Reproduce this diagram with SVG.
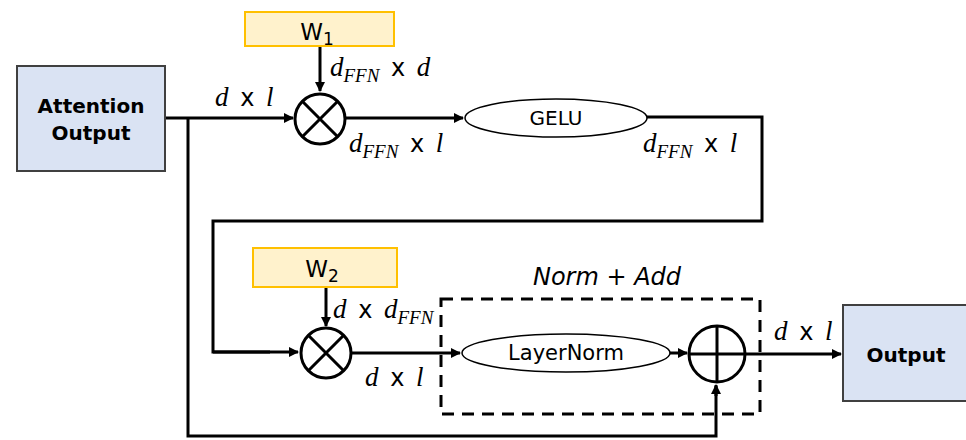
<svg xmlns="http://www.w3.org/2000/svg" width="966" height="440" viewBox="0 0 966 440">
<style>
.ln{fill:none;stroke:#000;stroke-width:3}
.arr{marker-end:url(#ah)}
.blue{fill:#dae3f3;stroke:#404040;stroke-width:2}
.yel{fill:#fff2cc;stroke:#ffc000;stroke-width:2}
.ell{fill:#fff;stroke:#000;stroke-width:1.5}
.op{fill:#fff;stroke:#000;stroke-width:3}
.bold{font-family:"DejaVu Sans",Verdana,sans-serif;font-weight:bold;font-size:20px;text-anchor:middle}
.sans{font-family:"DejaVu Sans",Verdana,sans-serif;font-size:20px;text-anchor:middle}
.m{font-family:"Liberation Serif","DejaVu Serif",serif;font-size:27px}
.it{font-style:italic}
.x{font-family:"DejaVu Sans",sans-serif;font-size:24px}
.sub{font-style:italic;font-size:19px}
</style>
<defs>
<marker id="ah" markerWidth="10" markerHeight="10" refX="9" refY="5" orient="auto" markerUnits="userSpaceOnUse">
<path d="M0,0 L10,5 L0,10 z" fill="#000"/>
</marker>
</defs>
<g id="connectors">
<path class="ln arr" d="M165,118 H293"/>
<path class="ln" d="M188,118 V436 H716 V386"/>
<path class="ln arr" d="M716,396 V385"/>
<path class="ln arr" d="M320,46 V91"/>
<path class="ln arr" d="M346,118 H463"/>
<path class="ln" d="M647,117 H762 V221 H213 V352 H270"/>
<path class="ln arr" d="M213,352 H298"/>
<path class="ln arr" d="M326,287 V326"/>
<path class="ln arr" d="M352,353 H460"/>
<path class="ln arr" d="M670,353 H687"/>
<path class="ln arr" d="M745,354 H841"/>
</g>
<g id="attention-output">
<rect class="blue" x="17" y="66" width="148" height="105"/>
<text class="bold" x="91" y="113">Attention</text>
<text class="bold" x="91" y="140">Output</text>
</g>
<g id="w1">
<rect class="yel" x="245" y="12" width="149" height="34"/>
<text class="sans" x="317" y="40" style="font-size:23px">W<tspan dy="5" style="font-size:17px">1</tspan></text>
</g>
<g id="mul1">
<circle class="op" cx="320" cy="119" r="25"/>
<path class="ln" d="M302.3,101.3 L337.7,136.7 M337.7,101.3 L302.3,136.7"/>
</g>
<g id="gelu">
<ellipse class="ell" cx="556" cy="118" rx="91" ry="19"/>
<text class="sans" x="556" y="125">GELU</text>
</g>
<g id="w2">
<rect class="yel" x="253" y="248" width="144" height="39"/>
<text class="sans" x="322" y="277" style="font-size:23px">W<tspan dy="5" style="font-size:17px">2</tspan></text>
</g>
<g id="mul2">
<circle class="op" cx="326" cy="353" r="25"/>
<path class="ln" d="M308.3,335.3 L343.7,370.7 M343.7,335.3 L308.3,370.7"/>
</g>
<g id="norm-add">
<rect x="441" y="299" width="319" height="115" fill="none" stroke="#000" stroke-width="3" stroke-dasharray="12,8"/>
<text x="607" y="285" style="font-family:'DejaVu Sans',Verdana,sans-serif;font-style:italic;font-size:24px;text-anchor:middle">Norm + Add</text>
</g>
<g id="layernorm">
<ellipse class="ell" cx="566" cy="353" rx="104" ry="19"/>
<text class="sans" x="566" y="360" style="font-size:21px">LayerNorm</text>
</g>
<g id="add">
<circle class="op" cx="717" cy="354" r="28"/>
<path class="ln" d="M689,354 H745 M717,326 V382"/>
</g>
<g id="output">
<rect class="blue" x="843" y="305" width="124" height="96"/>
<text class="bold" x="906" y="362">Output</text>
</g>
<g id="labels">
<text class="m" x="215" y="106"><tspan class="it">d</tspan><tspan class="x" dx="4"> x </tspan><tspan class="it" dx="4">l</tspan></text>
<text class="m" x="330" y="76"><tspan class="it">d</tspan><tspan class="sub" dy="6">FFN</tspan><tspan class="x" dy="-6" dx="4"> x </tspan><tspan class="it" dx="4">d</tspan></text>
<text class="m" x="349" y="152"><tspan class="it">d</tspan><tspan class="sub" dy="6">FFN</tspan><tspan class="x" dy="-6" dx="4"> x </tspan><tspan class="it" dx="4">l</tspan></text>
<text class="m" x="643" y="152"><tspan class="it">d</tspan><tspan class="sub" dy="6">FFN</tspan><tspan class="x" dy="-6" dx="4"> x </tspan><tspan class="it" dx="4">l</tspan></text>
<text class="m" x="333" y="318"><tspan class="it">d</tspan><tspan class="x" dx="4"> x </tspan><tspan class="it" dx="4">d</tspan><tspan class="sub" dy="6">FFN</tspan></text>
<text class="m" x="365" y="386"><tspan class="it">d</tspan><tspan class="x" dx="4"> x </tspan><tspan class="it" dx="4">l</tspan></text>
<text class="m" x="774" y="340"><tspan class="it">d</tspan><tspan class="x" dx="4"> x </tspan><tspan class="it" dx="4">l</tspan></text>
</g>
</svg>
